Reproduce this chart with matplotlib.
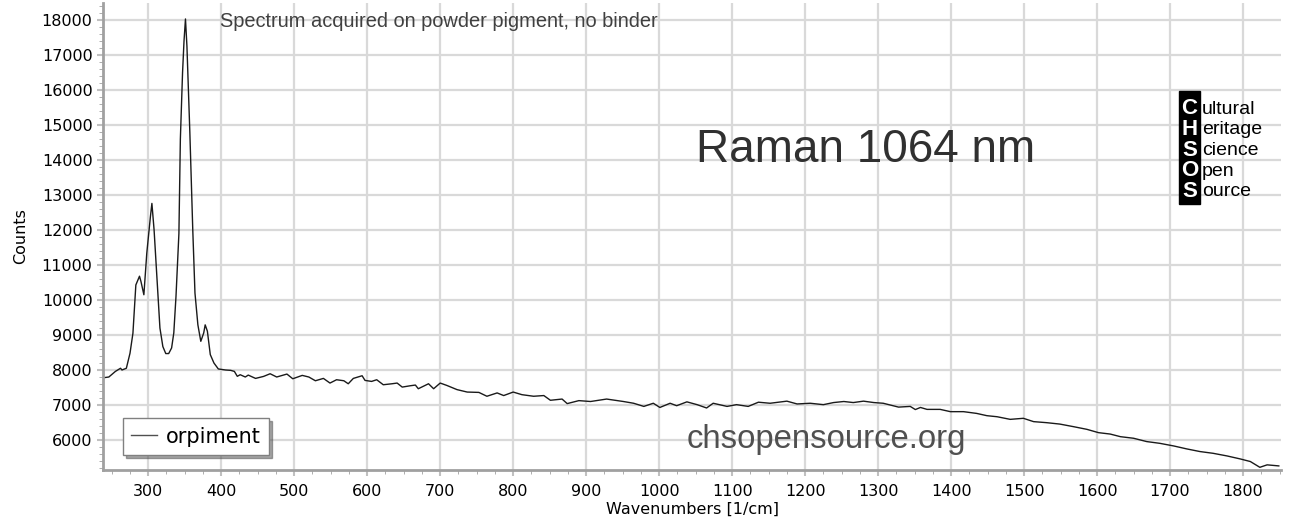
import matplotlib.pyplot as plt
from matplotlib.patches import Rectangle
from matplotlib.ticker import MultipleLocator

# spectrum (wavenumber 1/cm, counts)
wavenumbers = [239, 246, 255, 262, 264, 270, 275, 279, 283, 288, 290, 294, 298, 303,
               305, 308, 311, 316, 320, 324, 328, 332, 335, 338, 342, 344, 347, 349,
               351, 353, 357, 361, 364, 368, 372, 376, 378, 381, 385, 390, 396, 406,
               413, 418, 422, 426, 433, 437, 447, 458, 467, 476, 490, 498, 511, 520,
               529, 540, 549, 558, 568, 574, 581, 593, 597, 606, 613, 622, 634, 641,
               648, 659, 666, 670, 684, 691, 700, 709, 723, 737, 753, 764, 778, 787,
               800, 812, 828, 842, 851, 867, 874, 890, 906, 928, 951, 965, 979, 992,
               1001, 1015, 1024, 1038, 1052, 1065, 1074, 1093, 1106, 1122, 1136, 1152,
               1175, 1189, 1207, 1225, 1239, 1253, 1266, 1280, 1294, 1307, 1328, 1344,
               1351, 1358, 1367, 1385, 1399, 1417, 1435, 1449, 1463, 1481, 1499, 1513,
               1531, 1549, 1568, 1586, 1602, 1618, 1632, 1650, 1668, 1686, 1705, 1723,
               1741, 1759, 1778, 1796, 1810, 1823, 1833, 1849]
counts = [7780, 7800, 7960, 8050, 8000, 8050, 8480, 9050, 10430, 10680, 10530, 10150,
          11340, 12390, 12760, 12000, 10960, 9200, 8670, 8470, 8470, 8630, 9060, 10100,
          11900, 14600, 16500, 17400, 18030, 17250, 14780, 12000, 10200, 9290, 8820,
          9060, 9290, 9110, 8440, 8200, 8030, 8000, 7990, 7960, 7820, 7865, 7800, 7855,
          7760, 7817, 7893, 7800, 7884, 7750, 7846, 7800, 7693, 7760, 7627, 7722, 7693,
          7607, 7760, 7836, 7703, 7674, 7722, 7579, 7607, 7627, 7512, 7550, 7570, 7465,
          7607, 7465, 7627, 7560, 7440, 7370, 7360, 7250, 7345, 7270, 7370, 7295, 7250,
          7270, 7135, 7170, 7040, 7125, 7100, 7170, 7100, 7050, 6960, 7050, 6930, 7050,
          6980, 7090, 7010, 6915, 7050, 6960, 7010, 6960, 7080, 7050, 7110, 7030, 7050,
          7010, 7070, 7100, 7070, 7110, 7070, 7050, 6940, 6960, 6870, 6930, 6875, 6875,
          6810, 6810, 6760, 6695, 6665, 6590, 6620, 6525, 6495, 6455, 6380, 6305, 6210,
          6170, 6095, 6050, 5955, 5905, 5830, 5745, 5670, 5620, 5545, 5460, 5385, 5220,
          5290, 5260]

logo_letters = ['C', 'H', 'S', 'O', 'S']
logo_words = ['ultural', 'eritage', 'cience', 'pen', 'ource']

W, H = 1293, 524
fig = plt.figure(figsize=(W / 100, H / 100), dpi=100)
ax = fig.add_axes([103 / W, 1 - 470 / H, 1178 / W, 467 / H])

ax.plot(wavenumbers, counts, color='#1a1a1a', lw=1.0, label='orpiment')

ax.set_xlim(238, 1852)
ax.set_ylim(5143, 18486)
ax.xaxis.set_minor_locator(MultipleLocator(25))
ax.yaxis.set_minor_locator(MultipleLocator(200))
ax.set_xticks(range(300, 1801, 100))
ax.set_yticks(range(6000, 18001, 1000))

ax.grid(True, which='major', color='#d9d9d9', lw=1.6)
ax.set_axisbelow(True)
for side in ['top', 'right']:
    ax.spines[side].set_visible(False)
for side in ['left', 'bottom']:
    ax.spines[side].set_color('#a0a0a0')
    ax.spines[side].set_linewidth(2)
ax.tick_params(which='major', length=4, width=1.5, color='#c0c0c0', labelsize=11.5)
ax.tick_params(axis='y', which='major', pad=3.5)
ax.tick_params(axis='x', which='major', pad=6)
ax.tick_params(which='minor', length=3, color='#a0a0a0')

ax.set_xlabel('Wavenumbers [1/cm]', fontsize=11.5, labelpad=2)
ax.set_ylabel('Counts', fontsize=11.5, labelpad=10)

leg = ax.legend(loc='lower left', bbox_to_anchor=(0.017, 0.032), borderaxespad=0,
                fontsize=15, fancybox=False, shadow=True, edgecolor='#808080',
                handlelength=1.25, handletextpad=0.4, borderpad=0.4, framealpha=1)
leg.get_lines()[0].set_color('#505050')

def px(x, y):
    return x / W, 1 - y / H

fig.text(*px(220, 27), 'Spectrum acquired on powder pigment, no binder', family='Liberation Sans',
         fontsize=14.4, color='#404040', va='baseline')
fig.text(*px(696, 162), 'Raman 1064 nm', family='Liberation Sans',
         fontsize=33, color='#303030', va='baseline')
fig.text(*px(687, 448), 'chsopensource.org', family='Liberation Sans',
         fontsize=23.7, color='#505050', va='baseline')

fig.add_artist(Rectangle(px(1179, 204), 21 / W, 113 / H, transform=fig.transFigure,
                         color='black'))
for i, (letter, word) in enumerate(zip(logo_letters, logo_words)):
    yc = 109 + i * 20.5
    fig.text(*px(1189.5, yc), letter, family='Liberation Sans', weight='bold',
             fontsize=16, color='white', ha='center', va='center')
    fig.text(*px(1202, yc + 5), word, family='Liberation Sans',
             fontsize=14, color='black', ha='left', va='baseline')

fig.savefig('out.png', dpi=100)
